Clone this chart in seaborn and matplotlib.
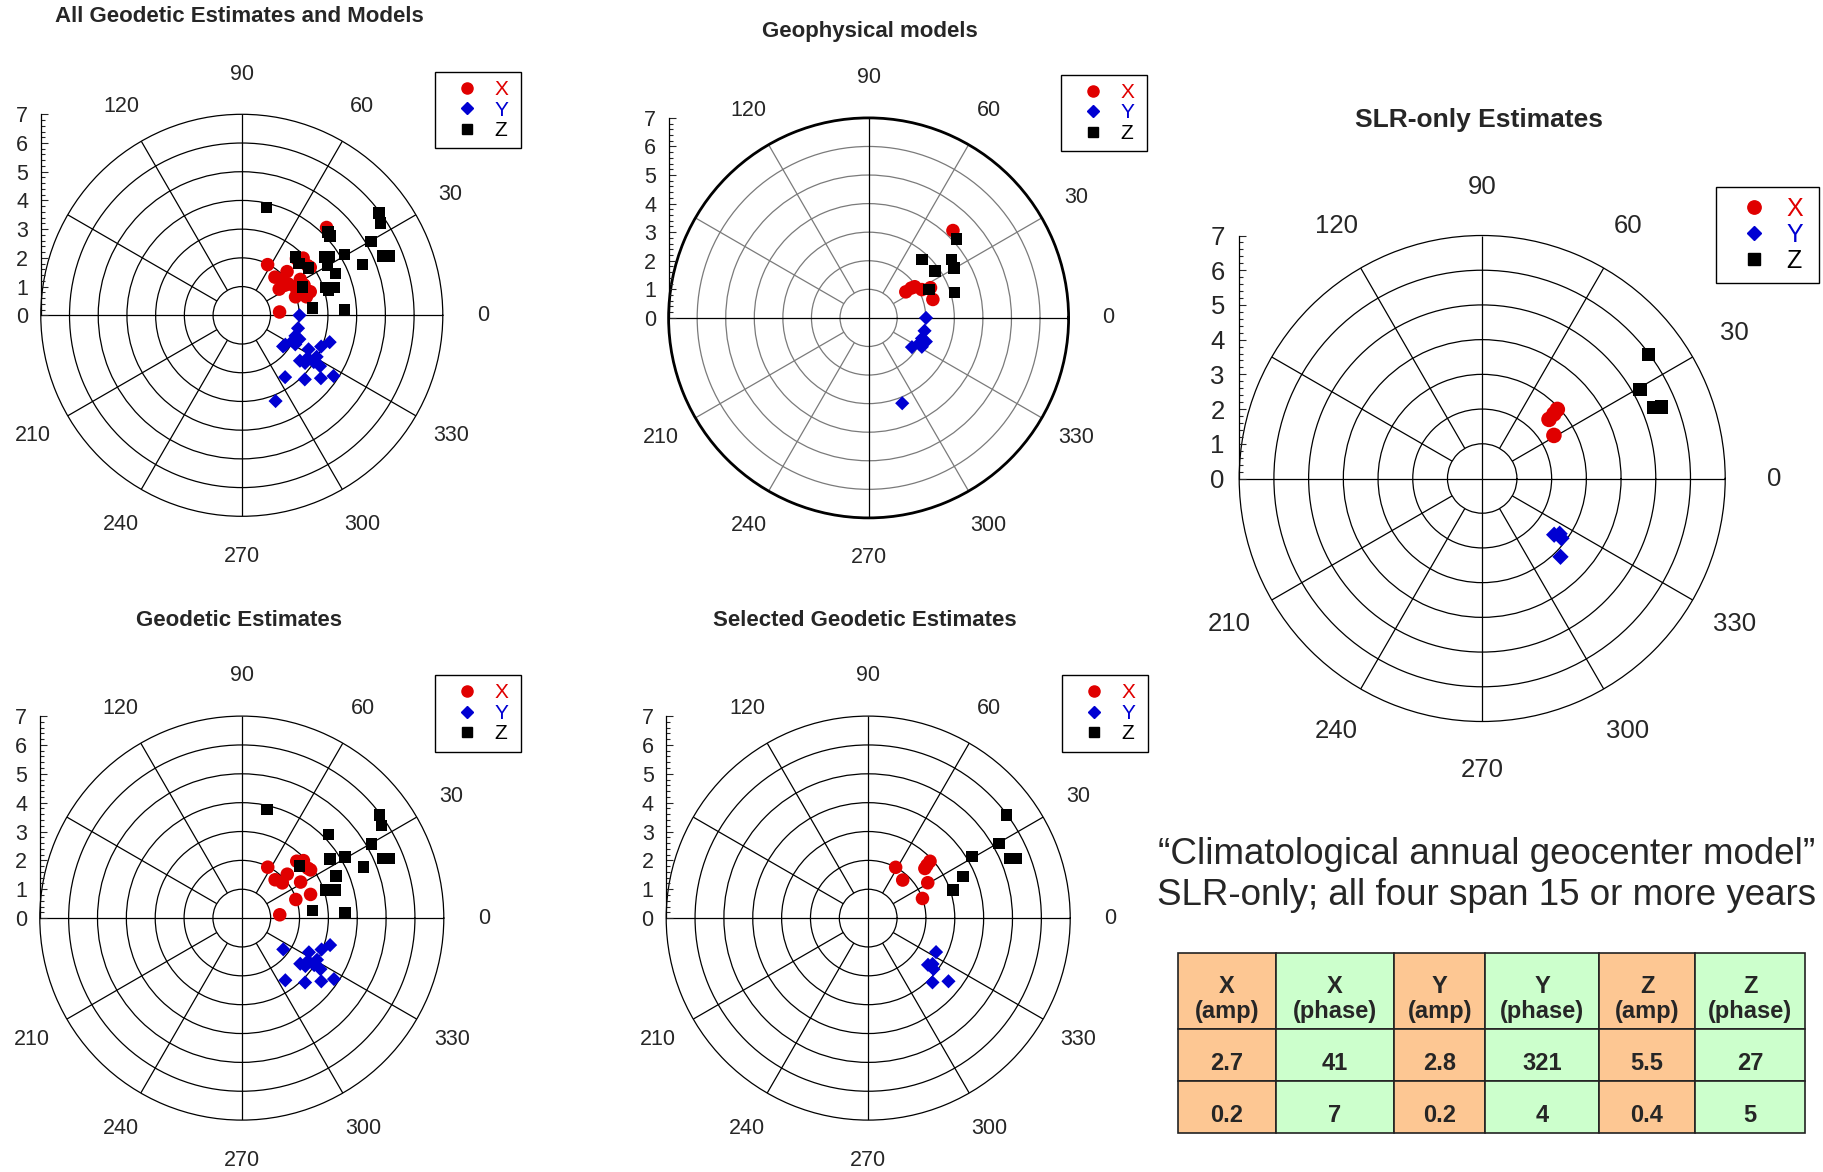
import numpy as np
import matplotlib
matplotlib.use("Agg")
import matplotlib.pyplot as plt
from matplotlib.lines import Line2D
from matplotlib.ticker import FixedLocator
import seaborn as sns

sns.set_style("white")
plt.rcParams["font.family"] = ["Liberation Sans", "DejaVu Sans"]

# ---- data (amplitude in mm, phase in degrees) ----
# Geodetic estimates
geod_x_amp = [1.98, 1.76, 1.86, 2.19, 2.74, 2.92, 2.91, 2.39, 2.52, 1.98, 1.32, 2.87]
geod_x_phase = [63, 49, 41, 44, 46, 43, 35, 31.5, 19, 19, 5, 37]
geod_y_amp = [1.80, 2.61, 2.97, 3.20, 2.98, 2.57, 2.76, 2.99, 3.25, 3.52, 3.13, 2.63, 3.83, 2.73]
geod_y_phase = [323, 333, 338.5, 343, 331, 322, 323, 327, 327, 321.5, 314.5, 305, 326.5, 327]
geod_z_amp = [3.86, 4.18, 5.18, 3.68, 4.16, 4.57, 3.57, 3.07, 3.37, 2.69, 2.47, 3.58, 5.96, 5.81, 5.31, 5.53]
geod_z_phase = [77, 44, 29.7, 33.7, 30.7, 22.9, 24, 18.4, 16.7, 42.1, 6, 3.1, 36.8, 33.6, 22.9, 22]

# Geophysical models
geoph_x_amp = [4.25, 1.59, 1.82, 1.95, 2.11, 2.41, 2.34]
geoph_x_phase = [46, 35, 35, 34, 28, 26, 16]
geoph_y_amp = [2.01, 2.01, 2.0, 2.17, 1.98, 1.83, 2.12, 3.21]
geoph_y_phase = [0, 347, 339, 337.5, 333, 326, 331.5, 291.5]
geoph_z_amp = [2.76, 2.84, 3.54, 3.46, 4.13, 3.14, 2.34]
geoph_z_phase = [47.5, 35.3, 35.1, 30.4, 42, 16.3, 25]

# Selected geodetic estimates
sel_x_amp = [2.0, 1.78, 2.61, 2.91, 2.40, 2.0, 2.74]
sel_x_phase = [61.6, 47.8, 41.2, 42.6, 30.7, 19.9, 42]
sel_y_amp = [2.63, 2.63, 2.74, 2.87, 3.15, 3.54]
sel_y_phase = [333.4, 322, 324.5, 322, 315, 321.8]
sel_z_amp = [5.97, 5.22, 4.18, 3.58, 3.10, 5.33, 5.53]
sel_z_phase = [36.7, 29.6, 30.8, 23.7, 18.3, 22.9, 22.0]

# SLR-only estimates
slr_x_amp = [2.94, 2.78, 2.57, 2.41]
slr_x_phase = [42.6, 42, 41.5, 31]
slr_y_amp = [2.63, 2.86, 3.19, 2.74]
slr_y_phase = [322, 323, 315, 324.5]
slr_z_amp = [5.98, 5.22, 5.35, 5.57]
slr_z_phase = [36.8, 29.4, 22.6, 21.7]

# all = geodetic + geophysical
all_x_amp = geod_x_amp + geoph_x_amp
all_x_phase = geod_x_phase + geoph_x_phase
all_y_amp = geod_y_amp + geoph_y_amp
all_y_phase = geod_y_phase + geoph_y_phase
all_z_amp = geod_z_amp + geoph_z_amp
all_z_phase = geod_z_phase + geoph_z_phase

table_header = ["X\n(amp)", "X\n(phase)", "Y\n(amp)", "Y\n(phase)", "Z\n(amp)", "Z\n(phase)"]
table_values = ["2.7", "41", "2.8", "321", "5.5", "27"]
table_errors = ["0.2", "7", "0.2", "4", "0.4", "5"]

spoke_angles = list(range(0, 360, 30))
theta_labels = [0, 30, 60, 90, 120, 210, 240, 270, 300, 330]  # 150/180 hidden by the scale bar

W, H = 1823, 1172
RED, BLUE = "#e00000", "#0000d2"
ORANGE, GREEN = "#fdc793", "#ccffcc"

fig = plt.figure(figsize=(W / 100, H / 100), dpi=100)


def rect(cx, cy, r):
    return [(cx - r) / W, 1 - (cy + r) / H, 2 * r / W, 2 * r / H]


def polar_panel(cx, cy, r, xs, ys, zs, fs=15.5, grid="black", rim=0.9, k=1.0):
    box = rect(cx, cy, r)
    ax = fig.add_axes(box, projection="polar")
    ax.set_axisbelow(True)
    ax.set_xticks([])
    ax.set_yticks(range(1, 7))
    ax.set_yticklabels([])
    ax.yaxis.grid(True, color=grid, lw=0.9)
    ax.spines["polar"].set_color("black")
    ax.spines["polar"].set_linewidth(rim)
    for a in spoke_angles:
        th = np.deg2rad(a)
        main = a % 90 == 0
        ax.vlines(th, 0 if main else 1, 7, color="black" if main else grid, lw=0.9, zorder=1)
    for a in theta_labels:
        ax.text(np.deg2rad(a), 8.4, str(a), ha="center", va="center", fontsize=fs, clip_on=False)

    for (amp, ph), mk, col, s in [(xs, "o", RED, 95), (ys, "D", BLUE, 52), (zs, "s", "black", 68)]:
        sns.scatterplot(x=np.deg2rad(ph), y=amp, marker=mk, color=col, s=s * k * k,
                        linewidth=0, edgecolor="none", ax=ax, zorder=3)
    ax.set_xlim(0, 2 * np.pi)
    ax.set_ylim(0, 7)
    ax.set_xlabel("")
    ax.set_ylabel("")

    # radial scale bar on the left
    sb = fig.add_axes(box)
    sb.set_xlim(-7, 7)
    sb.set_ylim(-7, 7)
    sb.patch.set_visible(False)
    for side in ["top", "right", "bottom"]:
        sb.spines[side].set_visible(False)
    sb.spines["left"].set_bounds(0, 7)
    sb.spines["left"].set_color("black")
    sb.spines["left"].set_linewidth(0.9)
    sb.set_xticks([])
    sb.yaxis.set_major_locator(FixedLocator(range(8)))
    sb.yaxis.set_minor_locator(FixedLocator(np.arange(0, 7.01, 0.2)))
    sb.tick_params(axis="y", which="major", left=True, direction="in", length=5,
                   width=0.8, labelsize=fs, pad=9 * k)
    sb.tick_params(axis="y", which="minor", left=True, direction="in", length=3, width=0.8)
    return ax


def add_legend(x0, y0, x1, y1, fs, k, L, htp):
    handles = [Line2D([], [], marker="o", color=RED, ls="none", ms=8 * k),
               Line2D([], [], marker="D", color=BLUE, ls="none", ms=6 * k),
               Line2D([], [], marker="s", color="black", ls="none", ms=7 * k)]
    leg = fig.legend(handles, ["X", "Y", "Z"], loc="upper left",
                     bbox_to_anchor=(x0 / W, 1 - y1 / H, (x1 - x0) / W, (y1 - y0) / H),
                     mode="expand", fontsize=fs, labelcolor=[RED, BLUE, "black"],
                     handlelength=L, handletextpad=htp, labelspacing=0.08, borderpad=0.4,
                     borderaxespad=0, fancybox=False, framealpha=1, edgecolor="black")
    leg.get_frame().set_linewidth(1.0)


polar_panel(241.8, 315.3, 201, (all_x_amp, all_x_phase), (all_y_amp, all_y_phase),
            (all_z_amp, all_z_phase))
polar_panel(868.6, 317.9, 200, (geoph_x_amp, geoph_x_phase), (geoph_y_amp, geoph_y_phase),
            (geoph_z_amp, geoph_z_phase), grid="#7a7a7a", rim=2.0)
polar_panel(1482.2, 478.5, 243, (slr_x_amp, slr_x_phase), (slr_y_amp, slr_y_phase),
            (slr_z_amp, slr_z_phase), fs=18.5, k=1.15)
polar_panel(241.8, 918.1, 202, (geod_x_amp, geod_x_phase), (geod_y_amp, geod_y_phase),
            (geod_z_amp, geod_z_phase))
polar_panel(868.2, 918.1, 202, (sel_x_amp, sel_x_phase), (sel_y_amp, sel_y_phase),
            (sel_z_amp, sel_z_phase))

titles = [("All Geodetic Estimates and Models", 239, 17, 16),
          ("Geophysical models", 869.5, 32, 16),
          ("SLR-only Estimates", 1479, 120, 19),
          ("Geodetic Estimates", 239, 620, 16),
          ("Selected Geodetic Estimates", 865, 620, 16)]
for txt, tx, ty, tfs in titles:
    fig.text(tx / W, 1 - ty / H, txt, ha="center", va="center", fontsize=tfs, fontweight="bold")

add_legend(435, 71.5, 520.7, 149.7, 15, 1.0, 2.3, 0.15)
add_legend(1061, 74.5, 1146.8, 152.4, 15, 1.0, 2.3, 0.15)
add_legend(1716, 186.5, 1818.5, 279.7, 18, 1.2, 2.2, 0.2)
add_legend(435, 674.8, 520.7, 752.5, 15, 1.0, 2.3, 0.15)
add_legend(1062, 674.8, 1147.5, 752.5, 15, 1.0, 2.3, 0.15)

fig.text(1487 / W, 1 - 854.6 / H, "\u201cClimatological annual geocenter model\u201d",
         ha="center", va="center", fontsize=26.5)
fig.text(1487 / W, 1 - 895.3 / H, "SLR-only; all four span 15 or more years",
         ha="center", va="center", fontsize=26.5)

# table: coloured cells from ax.table, text placed a little low as in the original
tx0, ty0, tx1, ty1 = 1178.3, 953.3, 1805, 1132.7
tax = fig.add_axes([tx0 / W, 1 - ty1 / H, (tx1 - tx0) / W, (ty1 - ty0) / H])
tax.axis("off")
tax.set_xlim(0, 1)
tax.set_ylim(0, 1)
col_w = [97.6, 118, 91.5, 113.2, 96.7, 109.7]
colours = [ORANGE if i % 2 == 0 else GREEN for i in range(6)]
tab = tax.table(cellText=[[""] * 6] * 3, cellColours=[colours] * 3, colWidths=col_w,
                cellLoc="center", bbox=[0, 0, 1, 1])
row_h = [75.7, 51.7, 52]
for (rr, cc), cell in tab.get_celld().items():
    cell.set_height(row_h[rr])
    cell.set_edgecolor("#222222")
    cell.set_linewidth(1.2)

col_edges = np.concatenate([[0], np.cumsum(col_w)]) / sum(col_w)
col_mid = (col_edges[:-1] + col_edges[1:]) / 2
row_y = [(ty1 - 999) / (ty1 - ty0), (ty1 - 1064) / (ty1 - ty0), (ty1 - 1116) / (ty1 - ty0)]
for row, yy in zip([table_header, table_values, table_errors], row_y):
    for txt, xx in zip(row, col_mid):
        tax.text(xx, yy, txt, ha="center", va="center", fontsize=17, fontweight="bold",
                 linespacing=1.15, zorder=5)

fig.savefig("out.png", dpi=100)
